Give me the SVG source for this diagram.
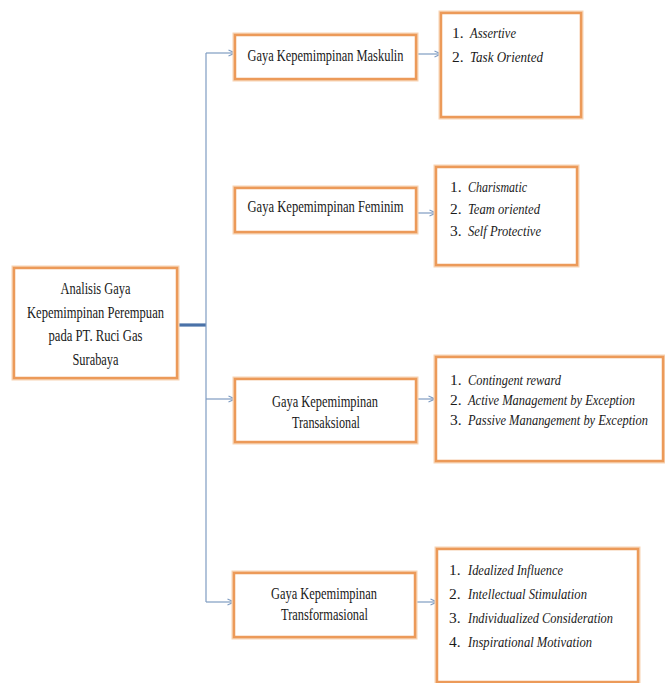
<svg xmlns="http://www.w3.org/2000/svg" width="665" height="683" viewBox="0 0 665 683">
<style>
.glow{fill:none;stroke:#F7D3B4;stroke-width:5}
.box{fill:#ffffff;stroke:#EC9A59;stroke-width:2.5}
.t{font-family:'Liberation Serif',serif;font-size:16.5px;fill:#1a1a1a}
.c{text-anchor:middle}
.l{font-family:'Liberation Serif',serif;font-size:15.5px;fill:#1a1a1a}
.i{font-style:italic}
.wire{fill:none;stroke:#7F9CC2;stroke-width:1.2}
.thick{fill:none;stroke:#4A72A8;stroke-width:3.2}
</style>
<defs>
<marker id="ah" viewBox="0 0 8 8" refX="7.5" refY="4" markerWidth="8" markerHeight="8" markerUnits="userSpaceOnUse" orient="auto">
<path d="M1,1 L7.5,4 L1,7" fill="none" stroke="#7F9CC2" stroke-width="1.1"/>
</marker>
</defs>
<rect width="665" height="683" fill="#ffffff"/>

<g id="connectors">
<line class="thick" x1="177" y1="325" x2="206" y2="325"/>
<line class="wire" x1="206" y1="53" x2="206" y2="602"/>
<line class="wire" x1="206" y1="53" x2="235" y2="53" marker-end="url(#ah)"/>
<line class="wire" x1="206" y1="399" x2="235" y2="399" marker-end="url(#ah)"/>
<line class="wire" x1="206" y1="602" x2="234" y2="602" marker-end="url(#ah)"/>
<line class="wire" x1="416" y1="54" x2="441" y2="54" marker-end="url(#ah)"/>
<line class="wire" x1="416" y1="213" x2="436" y2="213" marker-end="url(#ah)"/>
<line class="wire" x1="416" y1="399" x2="435" y2="399" marker-end="url(#ah)"/>
<line class="wire" x1="415" y1="602" x2="437" y2="602" marker-end="url(#ah)"/>
</g>

<g id="root" font-family="Liberation Serif">
<rect class="glow" x="14" y="268" width="163" height="110"/>
<rect class="box" x="14" y="268" width="163" height="110"/>
<text class="t c" x="95.5" y="294" textLength="70" lengthAdjust="spacingAndGlyphs">Analisis Gaya</text>
<text class="t c" x="95.5" y="318" textLength="137" lengthAdjust="spacingAndGlyphs">Kepemimpinan Perempuan</text>
<text class="t c" x="95.5" y="341" textLength="94" lengthAdjust="spacingAndGlyphs">pada PT. Ruci Gas</text>
<text class="t c" x="95.5" y="365" textLength="46" lengthAdjust="spacingAndGlyphs">Surabaya</text>
</g>

<g id="maskulin">
<rect class="glow" x="235" y="35" width="181" height="44"/>
<rect class="box" x="235" y="35" width="181" height="44"/>
<text class="t c" x="325.5" y="61" textLength="156" lengthAdjust="spacingAndGlyphs">Gaya Kepemimpinan Maskulin</text>
</g>

<g id="feminim">
<rect class="glow" x="235" y="188" width="181" height="44"/>
<rect class="box" x="235" y="188" width="181" height="44"/>
<text class="t c" x="325.5" y="212" textLength="156" lengthAdjust="spacingAndGlyphs">Gaya Kepemimpinan Feminim</text>
</g>

<g id="transaksional">
<rect class="glow" x="235" y="379" width="181" height="63"/>
<rect class="box" x="235" y="379" width="181" height="63"/>
<text class="t c" x="325" y="407" textLength="106" lengthAdjust="spacingAndGlyphs">Gaya Kepemimpinan</text>
<text class="t c" x="326" y="428" textLength="68" lengthAdjust="spacingAndGlyphs">Transaksional</text>
</g>

<g id="transformasional">
<rect class="glow" x="234" y="573" width="181" height="64"/>
<rect class="box" x="234" y="573" width="181" height="64"/>
<text class="t c" x="324" y="599" textLength="106" lengthAdjust="spacingAndGlyphs">Gaya Kepemimpinan</text>
<text class="t c" x="324.5" y="620" textLength="87" lengthAdjust="spacingAndGlyphs">Transformasional</text>
</g>

<g id="list-maskulin">
<rect class="glow" x="441" y="13" width="140" height="104"/>
<rect class="box" x="441" y="13" width="140" height="104"/>
<text class="l" x="452" y="38">1.</text>
<text class="l i" x="470" y="38" textLength="46" lengthAdjust="spacingAndGlyphs">Assertive</text>
<text class="l" x="452" y="62">2.</text>
<text class="l i" x="470" y="62" textLength="73" lengthAdjust="spacingAndGlyphs">Task Oriented</text>
</g>

<g id="list-feminim">
<rect class="glow" x="436" y="167" width="141" height="98"/>
<rect class="box" x="436" y="167" width="141" height="98"/>
<text class="l" x="450" y="192">1.</text>
<text class="l i" x="468" y="192" textLength="59" lengthAdjust="spacingAndGlyphs">Charismatic</text>
<text class="l" x="450" y="214">2.</text>
<text class="l i" x="468" y="214" textLength="72" lengthAdjust="spacingAndGlyphs">Team oriented</text>
<text class="l" x="450" y="236">3.</text>
<text class="l i" x="468" y="236" textLength="73" lengthAdjust="spacingAndGlyphs">Self Protective</text>
</g>

<g id="list-transaksional">
<rect class="glow" x="436" y="357" width="227" height="104"/>
<rect class="box" x="436" y="357" width="227" height="104"/>
<text class="l" x="450" y="385">1.</text>
<text class="l i" x="468" y="385" textLength="93" lengthAdjust="spacingAndGlyphs">Contingent reward</text>
<text class="l" x="450" y="405">2.</text>
<text class="l i" x="468" y="405" textLength="167" lengthAdjust="spacingAndGlyphs">Active Management  by Exception</text>
<text class="l" x="450" y="425">3.</text>
<text class="l i" x="468" y="425" textLength="180" lengthAdjust="spacingAndGlyphs">Passive Manangement by Exception</text>
</g>

<g id="list-transformasional">
<rect class="glow" x="437" y="549" width="201" height="133"/>
<rect class="box" x="437" y="549" width="201" height="133"/>
<text class="l" x="449" y="575">1.</text>
<text class="l i" x="468" y="575" textLength="95" lengthAdjust="spacingAndGlyphs">Idealized Influence</text>
<text class="l" x="449" y="599">2.</text>
<text class="l i" x="468" y="599" textLength="119" lengthAdjust="spacingAndGlyphs">Intellectual Stimulation</text>
<text class="l" x="449" y="623">3.</text>
<text class="l i" x="468" y="623" textLength="145" lengthAdjust="spacingAndGlyphs">Individualized Consideration</text>
<text class="l" x="449" y="647">4.</text>
<text class="l i" x="468" y="647" textLength="124" lengthAdjust="spacingAndGlyphs">Inspirational Motivation</text>
</g>
</svg>
